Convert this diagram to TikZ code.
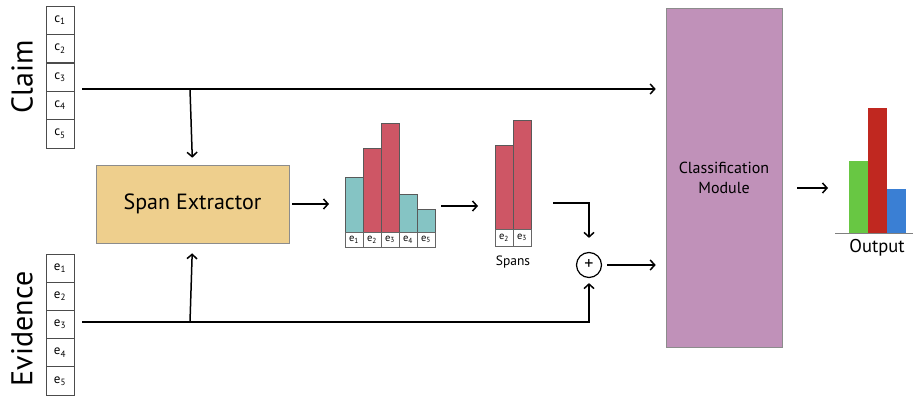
\documentclass[tikz,border=0pt]{standalone}
\usepackage{fontspec}
\setmainfont{PT Sans}
\usetikzlibrary{arrows.meta,calc}

\definecolor{spanfill}{RGB}{238,207,141}
\definecolor{clsfill}{RGB}{192,145,185}
\definecolor{barteal}{RGB}{133,196,196}
\definecolor{barred}{RGB}{206,86,101}
\definecolor{outgreen}{RGB}{104,199,67}
\definecolor{outred}{RGB}{192,40,32}
\definecolor{outblue}{RGB}{58,127,212}

\begin{document}
\begin{tikzpicture}[x=1pt,y=-1pt,
  tok/.style={draw=black!70, line width=0.6pt, fill=white, minimum width=28pt,
    minimum height=28.3pt, inner sep=0pt, font=\fontsize{13}{13}\selectfont},
  conn/.style={line width=1.5pt, -{Straight Barb[length=4.5pt,width=10pt]}},
  cell/.style={draw=black!60, line width=0.5pt, fill=white, minimum width=18pt,
    inner sep=0pt, font=\fontsize{10.5}{10.5}\selectfont},
  bar/.style={draw=black!65, line width=0.5pt},
  module/.style={draw=black!45, line width=0.6pt, inner sep=0pt},
]
\useasboundingbox (0,0) rectangle (914,396);

% input token columns
\foreach \i in {1,...,5} {
  \node[tok] (c\i) at (60,{6+28.4*(\i-0.5)}) {c\textsubscript{\i}};
  \node[tok] (e\i) at (60,{254+28.2*(\i-0.5)}) {e\textsubscript{\i}};
}
\node[rotate=90, font=\fontsize{30}{30}\selectfont] (claimlbl) at (22,77) {Claim};
\node[rotate=90, font=\fontsize{30}{30}\selectfont] (evidlbl) at (22,329) {Evidence};

% modules
\node[module, fill=spanfill, minimum width=193pt, minimum height=78pt,
  font=\fontsize{22}{22}\selectfont] (span) at (192.5,204) {Span Extractor};
\node[module, fill=clsfill, minimum width=116pt, minimum height=339pt,
  align=center, font=\fontsize{16}{20}\selectfont] (cls) at (724,177.5)
  {Classification\\Module};

% token scores from the span extractor
\draw[bar, fill=barteal] (345,177) rectangle (363,232);
\draw[bar, fill=barred]  (363,148) rectangle (381,232);
\draw[bar, fill=barred]  (381,123) rectangle (399,232);
\draw[bar, fill=barteal] (399,194) rectangle (417,232);
\draw[bar, fill=barteal] (417,209) rectangle (435,232);
\foreach \i/\x in {1/354,2/372,3/390,4/408,5/426}
  \node[cell, minimum height=15pt] (s\i) at (\x,239.5) {e\textsubscript{\i}};

% selected spans
\draw[bar, fill=barred] (495,145) rectangle (513,229);
\draw[bar, fill=barred] (513,120) rectangle (531,229);
\foreach \i/\x in {2/504,3/522}
  \node[cell, minimum height=17pt] (p\i) at (\x,237.5) {e\textsubscript{\i}};
\node[font=\fontsize{13.5}{13.5}\selectfont] (spanslbl) at (513,262) {Spans};

% combination
\node[draw, circle, line width=1.2pt, minimum size=25pt, inner sep=0pt,
  font=\fontsize{18}{18}\selectfont] (plus) at (589,265) {+};

% output distribution
\draw[fill=outgreen, draw=none] (849,161) rectangle (868,233);
\draw[fill=outred, draw=none]   (868,108) rectangle (887,233);
\draw[fill=outblue, draw=none]  (887,189) rectangle (906,233);
\coordinate (baseL) at (835,233);
\coordinate (baseR) at (913,233);
\draw[black!50, line width=0.8pt] (baseL) -- (baseR);
\node[font=\fontsize{18.5}{18.5}\selectfont] (outlbl) at (877,248) {Output};

% connector anchor points
\coordinate (claimout) at (82,89);
\coordinate (claimsplit) at (190,89);
\coordinate (evidout) at (82,322);
\coordinate (evidsplit) at (190,322);
\coordinate (chartin) at (329,206);
\coordinate (chartout) at (441,206);
\coordinate (spansin) at (478,206);
\coordinate (spansout) at (553,203);
\coordinate (resout) at (797,188);
\coordinate (resin) at (828,188);

% connectors
\draw[conn, shorten >=10pt] (claimout) -- (claimout -| cls.west);
\draw[conn, shorten >=7pt] (claimsplit) -- (span.north);
\draw[conn, shorten >=5pt] (evidout) -| (plus.south);
\draw[conn, shorten >=10pt] (evidsplit) -- (span.south);
\draw[conn, shorten <=3pt] (span.east) -- (span.east -| chartin);
\draw[conn] (chartout) -- (spansin);
\draw[conn, shorten >=14pt] (spansout) -| (plus.north);
\draw[conn, shorten <=5pt, shorten >=10pt] (plus.east) -- (plus.east -| cls.west);
\draw[conn] (resout) -- (resin);
\end{tikzpicture}
\end{document}
